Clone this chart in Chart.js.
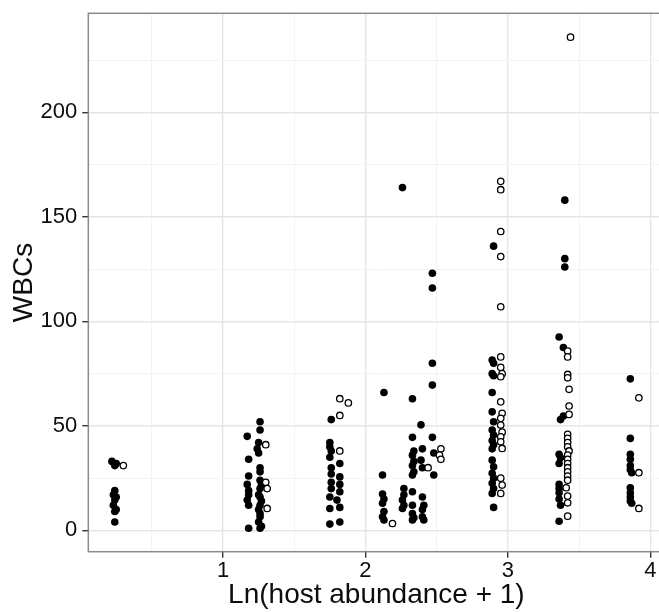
<!DOCTYPE html>
<html>
<head>
<meta charset="utf-8">
<script src="https://cdn.jsdelivr.net/npm/chart.js@4/dist/chart.umd.min.js"></script>
<style>
  html, body { margin: 0; padding: 0; background: #ffffff; }
  #wrap { width: 659px; height: 612px; overflow: hidden; position: relative; }
  canvas { display: block; }
</style>
</head>
<body>
<div id="wrap"><canvas id="chart" width="670" height="612"></canvas></div>
<script>
// Filled markers: [ln(host abundance + 1), WBCs]
const filledPoints = [
  [0.22,33],[0.25,32],[0.24,31],[0.24,19],[0.23,17],[0.25,16],[0.24,14.5],[0.23,12],[0.25,10],[0.24,9],[0.24,4],
  [1.17,45],[1.18,34],[1.18,26],[1.17,22],[1.18,19],[1.18,17],[1.17,14.5],[1.18,12],[1.18,1],
  [1.26,52],[1.26,48],[1.25,42],[1.24,39],[1.25,37],[1.26,30],[1.26,28],[1.26,24],[1.27,22],[1.26,20],
  [1.25,17],[1.26,16],[1.27,14],[1.26,12],[1.25,10],[1.26,8],[1.26,6.5],[1.25,4],[1.27,2],[1.26,1],
  [1.76,53],[1.75,42],[1.75,40],[1.76,38],[1.75,35],[1.82,32],[1.76,30],[1.76,27],[1.82,25.6],[1.76,23],
  [1.82,22],[1.76,20],[1.82,18.5],[1.75,16],[1.80,14.5],[1.82,11],[1.75,10.5],[1.82,4],[1.75,3],
  [2.13,66],[2.12,26.5],[2.12,17.4],[2.13,15],[2.12,13],[2.13,9],[2.12,6.5],[2.13,5],
  [2.26,164],[2.27,20],[2.27,17],[2.26,14.5],[2.27,12],[2.26,10.5],
  [2.33,63],[2.33,44.5],[2.34,38],[2.33,36],[2.34,33],[2.33,31],[2.34,28],[2.33,26.5],[2.33,18.5],[2.33,12],
  [2.33,8],[2.34,6],[2.33,5],
  [2.39,50.5],[2.40,39],[2.39,33.6],[2.40,30],[2.40,16],[2.41,12],[2.40,10],[2.40,6.5],[2.41,5],
  [2.47,123],[2.47,116],[2.47,80],[2.47,69.5],[2.47,44.5],[2.48,37],[2.48,26.5],
  [2.90,136],[2.89,81.5],[2.90,80],[2.89,75],[2.90,74],[2.89,66],[2.89,56.7],[2.90,52],[2.89,48],[2.90,45.6],
  [2.89,43],[2.90,41],[2.89,39],[2.89,33.6],[2.90,30.4],[2.89,27.3],[2.90,25],[2.89,22.5],[2.90,20],[2.89,17.7],[2.90,11],
  [3.40,158],[3.40,130],[3.40,126],[3.36,92.5],[3.39,87.5],[3.39,54.7],[3.37,53],[3.36,36.4],[3.37,34.7],[3.36,32],
  [3.36,22],[3.36,20],[3.36,18],[3.36,15],[3.37,12],[3.36,4.4],
  [3.86,72.5],[3.86,44],[3.86,36.4],[3.86,34],[3.86,31],[3.86,29],[3.87,27.6],[3.86,20.4],[3.86,18],[3.86,16],[3.86,14],[3.87,13]
];

// Open markers: [ln(host abundance + 1), WBCs]
const openPoints = [
  [0.30,31],
  [1.30,41],[1.30,23],[1.31,20],[1.31,10.5],
  [1.82,63],[1.88,61],[1.82,55],[1.82,38],
  [2.19,3.3],[2.44,30],[2.53,39],[2.52,36],[2.53,34],
  [2.95,167],[2.95,163],[2.95,143],[2.95,131],[2.95,107],[2.95,83],[2.95,78],[2.96,75],[2.95,73.5],[2.95,61.5],
  [2.96,56],[2.95,53.6],[2.95,50.4],[2.96,47],[2.95,44.8],[2.95,42.4],[2.96,39.2],[2.95,25],[2.96,21.7],[2.95,17.7],
  [3.44,236],[3.42,85.8],[3.42,83],[3.42,74.6],[3.42,73],[3.43,67.5],[3.43,59.5],[3.43,55.5],[3.42,46],[3.42,44],
  [3.42,42],[3.42,40],[3.43,38],[3.42,36],[3.42,34],[3.42,32],[3.42,30],[3.42,28],[3.42,26],[3.42,24],
  [3.41,20.4],[3.42,16.4],[3.42,13.2],[3.42,6.8],
  [3.92,63.4],[3.92,27.6],[3.92,10.5]
];

// Grid positions (major lines are labelled, minor lines are not)
const xGrid = [0.5, 1, 1.5, 2, 2.5, 3, 3.5, 4];
const xLabelled = [1, 2, 3, 4];
const yGrid = [0, 25, 50, 75, 100, 125, 150, 175, 200, 225];
const yLabelled = [0, 50, 100, 150, 200];

const xTitle = 'Ln(host abundance + 1)';
const yTitle = 'WBCs';

const FONT = "'Liberation Sans', Arial, Helvetica, sans-serif";

const toXY = arr => arr.map(p => ({ x: p[0], y: p[1] }));

// Panel border drawn around the plotting area on top of everything
const panelBorder = {
  id: 'panelBorder',
  afterDraw(chart) {
    const { ctx, chartArea: a } = chart;
    ctx.save();
    ctx.strokeStyle = '#8a8a8a';
    ctx.lineWidth = 1.5;
    ctx.strokeRect(a.left, a.top, a.right - a.left, a.bottom - a.top);
    ctx.restore();
  }
};

const gridOpts = (labelled) => ({
  color: c => labelled.includes(c.tick.value) ? '#e6e6e6' : '#f3f3f3',
  lineWidth: c => labelled.includes(c.tick.value) ? 1.4 : 1,
  tickColor: c => labelled.includes(c.tick.value) ? '#333333' : 'rgba(0,0,0,0)',
  tickLength: 6,
  drawTicks: true
});

// Fixed axis box sizes; edge label overhang is not allowed to push the plot area
const fixBox = (size, horizontal) => s => {
  if (horizontal) s.height = size; else s.width = size;
  s.paddingTop = 0; s.paddingBottom = 0; s.paddingLeft = 0; s.paddingRight = 0;
};

new Chart(document.getElementById('chart'), {
  type: 'scatter',
  data: {
    datasets: [
      {
        label: 'open',
        data: toXY(openPoints),
        order: 0,
        pointStyle: 'circle',
        pointRadius: 3.2,
        pointBorderWidth: 1.3,
        pointBackgroundColor: '#ffffff',
        pointBorderColor: '#000000'
      },
      {
        label: 'filled',
        data: toXY(filledPoints),
        order: 1,
        pointStyle: 'circle',
        pointRadius: 3.8,
        pointBorderWidth: 0,
        pointBackgroundColor: '#000000',
        pointBorderColor: '#000000'
      }
    ]
  },
  options: {
    responsive: false,
    animation: false,
    devicePixelRatio: 1,
    layout: { padding: { top: 13.3, right: 5.5, bottom: 0, left: 0 } },
    plugins: {
      legend: { display: false },
      tooltip: { enabled: false }
    },
    scales: {
      x: {
        type: 'linear',
        position: 'bottom',
        min: 0.054,
        max: 4.1,
        afterBuildTicks: s => { s.ticks = xGrid.map(v => ({ value: v })); },
        afterFit: fixBox(60.3, true),
        grid: gridOpts(xLabelled),
        border: { display: false },
        ticks: {
          autoSkip: false,
          maxRotation: 0,
          padding: 0,
          color: '#0d0d0d',
          font: { family: FONT, size: 22 },
          callback: v => xLabelled.includes(v) ? String(v) : ''
        },
        title: {
          display: true,
          text: xTitle,
          color: '#0d0d0d',
          font: { family: FONT, size: 28 },
          padding: { top: 0, bottom: 0 }
        }
      },
      y: {
        type: 'linear',
        position: 'left',
        min: -10.2,
        max: 247.4,
        afterBuildTicks: s => { s.ticks = yGrid.map(v => ({ value: v })); },
        afterFit: fixBox(88.3, false),
        grid: gridOpts(yLabelled),
        border: { display: false },
        ticks: {
          autoSkip: false,
          padding: 5,
          color: '#0d0d0d',
          font: { family: FONT, size: 22 },
          callback: v => yLabelled.includes(v) ? String(v) : ''
        },
        title: {
          display: true,
          text: yTitle,
          color: '#0d0d0d',
          font: { family: FONT, size: 28 },
          padding: { top: 7, bottom: 0 }
        }
      }
    }
  },
  plugins: [panelBorder]
});
</script>
</body>
</html>
